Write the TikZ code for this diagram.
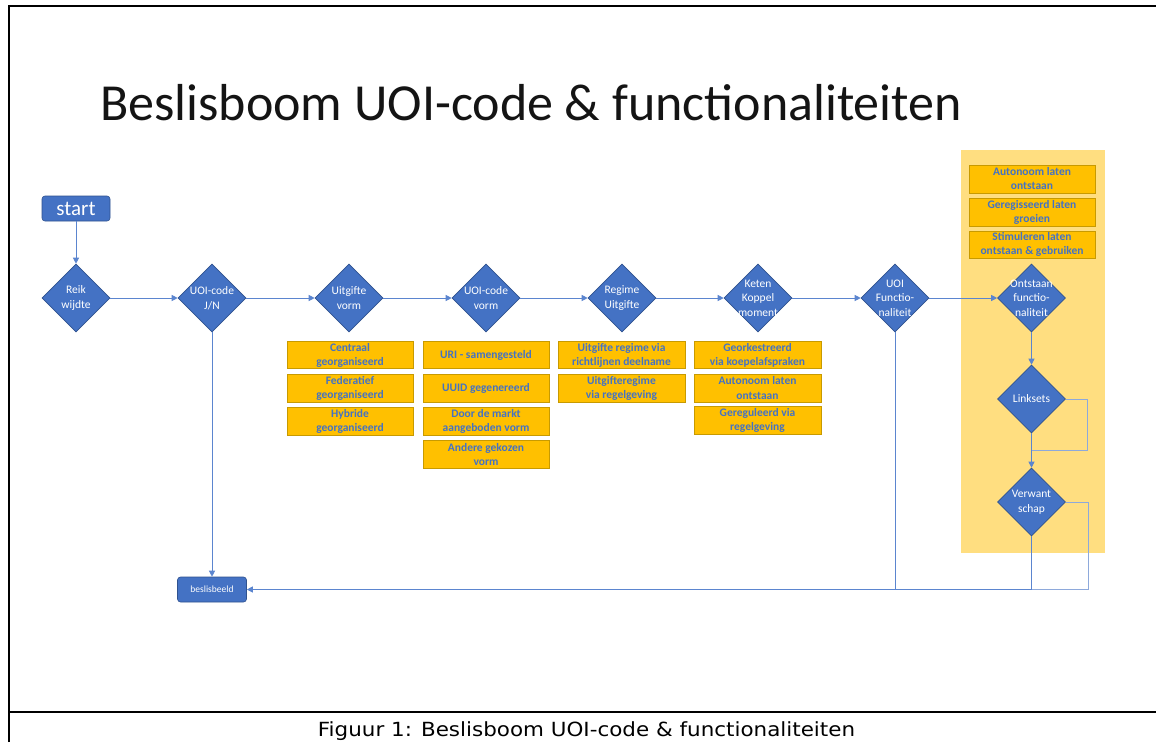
\documentclass[tikz,border=0pt]{standalone}
\usepackage{fontspec}
\usepackage{graphicx}
\setmainfont{Carlito}
\newfontfamily\capfont{DejaVu Sans}
\usetikzlibrary{shapes.geometric,arrows.meta}
\definecolor{bl}{HTML}{4472C4}
\definecolor{bld}{HTML}{2F528F}
\definecolor{og}{HTML}{FFC000}
\definecolor{ogd}{HTML}{C89A00}
\definecolor{yl}{HTML}{FFDE80}
\definecolor{ln}{HTML}{5B85CF}
\definecolor{lnl}{HTML}{8EA9DB}
\begin{document}
\begin{tikzpicture}[x=1pt,y=-1pt,
  dia/.style={diamond, fill=bl, draw=bld, line width=0.6pt, minimum width=68pt, minimum height=68pt, inner sep=0pt},
  dtext/.style={text=white, font=\fontsize{11.5}{14.5}\selectfont, align=center, inner sep=0pt},
  obox/.style={fill=og, draw=ogd, line width=0.8pt, minimum width=126pt, minimum height=27pt, inner sep=0pt, text=bl, font=\fontsize{11.5}{14}\selectfont\bfseries, align=center},
  rbox/.style={rounded corners=3pt, fill=bl, draw=bld, line width=0.6pt, text=white, inner sep=0pt},
  conn/.style={draw=ln, line width=0.9pt},
  arr/.style={conn, -{Triangle[length=6pt,width=6pt]}},
  frameline/.style={line width=2pt, black}
]
\useasboundingbox (0,0) rectangle (1156,742);
\fill[white] (0,0) rectangle (1156,742);
\fill[yl] (961,150) rectangle (1105,553);

% frame
\draw[frameline] (9,742) -- (9,6) -- (1156,6);
\draw[frameline] (9,712) -- (1156,712);

% title and caption
\node[anchor=base west, inner sep=0pt, font=\fontsize{52}{60}\selectfont, text=black!92] (title) at (100,120) {Beslisboom UOI-code \& functionaliteiten};
\node[anchor=base, inner sep=0pt, font=\capfont\fontsize{19.5}{22}\selectfont] (cap) at (586.5,736) {\scalebox{1.1}[1]{Figuur 1: Beslisboom UOI-code \& functionaliteiten}};

% start / end
\node[rbox, minimum width=68pt, minimum height=25pt, font=\fontsize{21}{24}\selectfont] (start) at (76,208.5) {start};
\node[rbox, minimum width=69pt, minimum height=25pt, font=\fontsize{9.5}{11}\selectfont] (bb) at (212,589.5) {beslisbeeld};

% diamonds
\node[dia] (d1) at (76,298) {};
\node[dia] (d2) at (212,298) {};
\node[dia] (d3) at (349,298) {};
\node[dia] (d4) at (486,298) {};
\node[dia] (d5) at (622,298) {};
\node[dia] (d6) at (758,298) {};
\node[dia] (d7) at (895,298) {};
\node[dia] (d8) at (1031.5,298) {};
\node[dia] (d9) at (1031.5,399) {};
\node[dia] (d10) at (1031.5,502) {};

\node[dtext] (t1) at (d1) {Reik\\wijdte};
\node[dtext] (t2) at (d2) {UOI-code\\J/N};
\node[dtext] (t3) at (d3) {Uitgifte\\vorm};
\node[dtext] (t4) at (d4) {UOI-code\\vorm};
\node[dtext] (t5) at (d5) {Regime\\Uitgifte};
\node[dtext] (t6) at (d6) {Keten\\Koppel\\moment};
\node[dtext] (t7) at (d7) {UOI\\Functio-\\naliteit};
\node[dtext] (t8) at (d8) {Ontstaan\\functio-\\naliteit};
\node[dtext] (t9) at (d9) {Linksets};
\node[dtext] (t10) at (d10) {Verwant\\schap};

% option boxes
\node[obox] (a1) at (350,355) {Centraal\\georganiseerd};
\node[obox, minimum height=28pt] (a2) at (350,388) {Federatief\\georganiseerd};
\node[obox, minimum height=28pt] (a3) at (350,421) {Hybride\\georganiseerd};

\node[obox] (b1) at (486,355) {URI - samengesteld};
\node[obox, minimum height=28pt] (b2) at (486,388) {UUID gegenereerd};
\node[obox, minimum height=28pt] (b3) at (486,421) {Door de markt\\aangeboden vorm};
\node[obox, minimum height=28pt] (b4) at (486,454) {Andere gekozen\\vorm};

\node[obox, minimum width=127pt] (c1) at (621.5,355) {Uitgifte regime via\\richtlijnen deelname};
\node[obox, minimum width=127pt, minimum height=28pt] (c2) at (621.5,388) {Uitgifteregime\\via regelgeving};

\node[obox, minimum width=127pt] (e1) at (757.5,355) {Georkestreerd\\via koepelafspraken};
\node[obox, minimum width=127pt, minimum height=28pt] (e2) at (757.5,388) {Autonoom laten\\ontstaan};
\node[obox, minimum width=127pt, minimum height=28pt] (e3) at (757.5,420.5) {Gereguleerd via\\regelgeving};

\node[obox, minimum height=28pt] (f1) at (1032,179) {Autonoom laten\\ontstaan};
\node[obox, minimum height=28pt] (f2) at (1032,212) {Geregisseerd laten\\groeien};
\node[obox] (f3) at (1032,244.5) {Stimuleren laten\\ontstaan \& gebruiken};

% helper coordinates
\coordinate (j7) at (895,589.5);
\coordinate (lr) at (1087,450);
\coordinate (lj) at (1031.5,450);
\coordinate (vr) at (1088,589.5);
\coordinate (vj) at (1031.5,589.5);

% connectors
\draw[arr] (start) -- (d1);
\draw[arr] (d1) -- (d2);
\draw[arr] (d2) -- (d3);
\draw[arr] (d3) -- (d4);
\draw[arr] (d4) -- (d5);
\draw[arr] (d5) -- (d6);
\draw[arr] (d6) -- (d7);
\draw[arr] (d7) -- (d8);
\draw[arr] (d2) -- (bb);
\draw[conn] (d7.south) -- (j7);
\draw[arr] (d8) -- (d9);
\draw[arr] (d9) -- (d10);
\draw[conn, draw=lnl] (d9.east) -| (lr) -- (lj);
\draw[conn, draw=lnl] (d10.east) -| (vr) -- (vj);
\draw[arr] (d10.south) |- (bb.east);
\end{tikzpicture}
\end{document}
